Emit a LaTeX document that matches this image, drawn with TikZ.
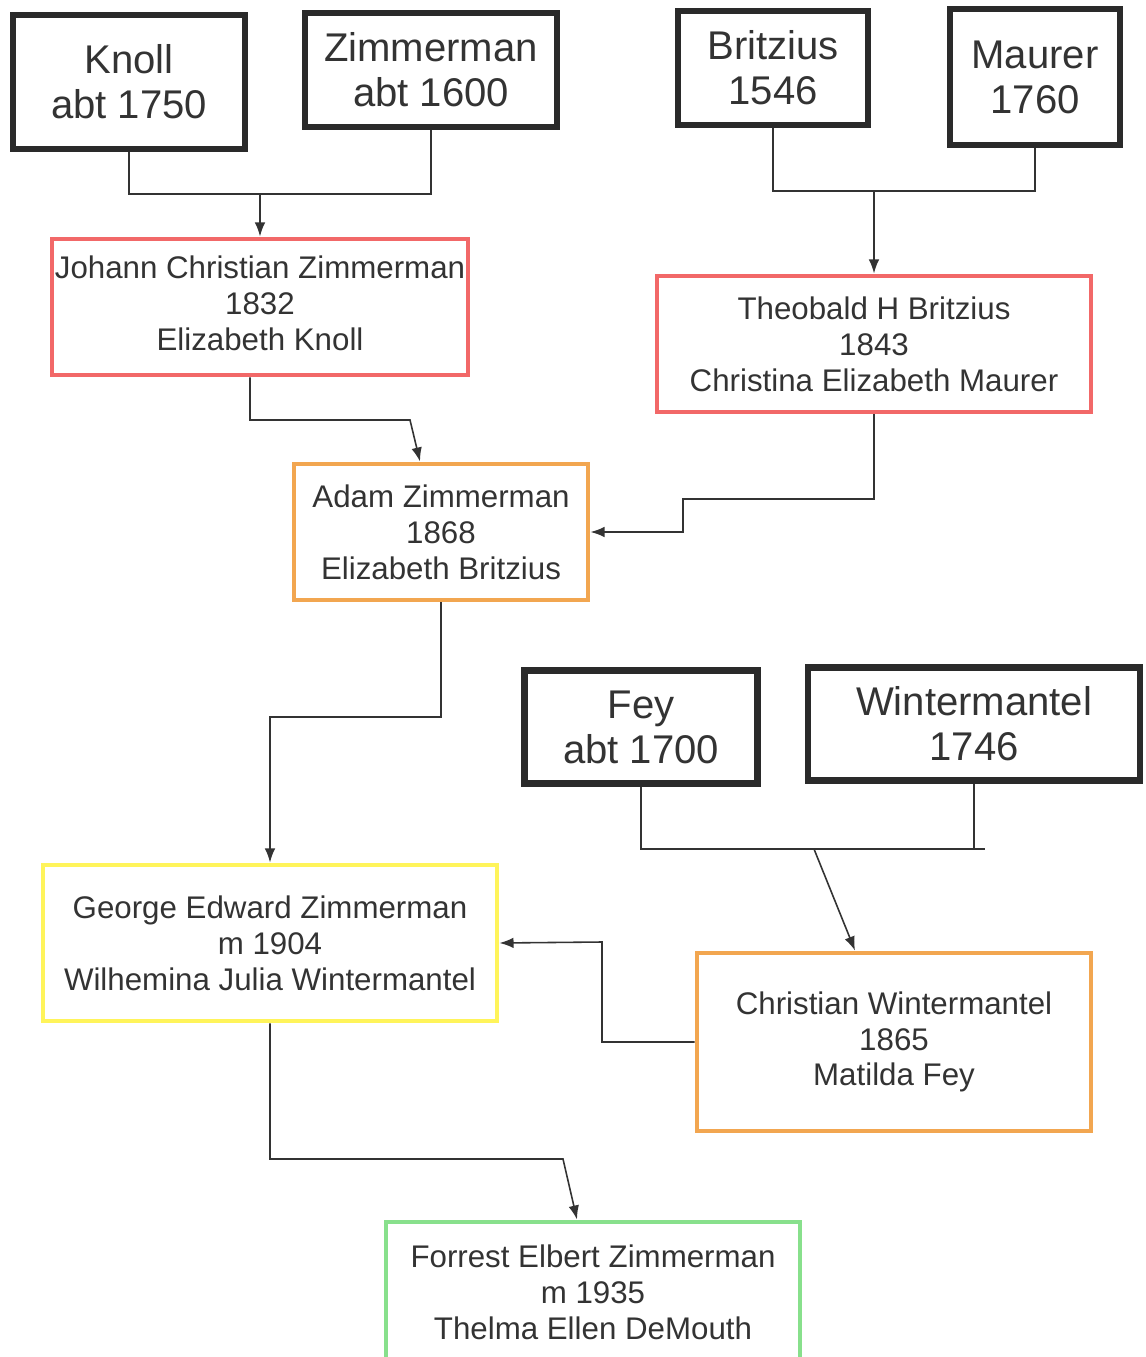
\documentclass[tikz,border=0pt]{standalone}
\usepackage{fontspec}
\setmainfont{Liberation Sans}
\usetikzlibrary{arrows.meta}
\definecolor{inkgrey}{HTML}{333333}
\definecolor{boxblack}{HTML}{2A2A2A}
\definecolor{boxred}{HTML}{F26868}
\definecolor{boxorange}{HTML}{F2A650}
\definecolor{boxyellow}{HTML}{FFF45A}
\definecolor{boxgreen}{HTML}{88E08C}
\tikzset{
  elder/.style={draw=boxblack, line width=1.8pt, inner sep=0pt, align=center,
    text=inkgrey, font=\fontsize{11.4}{12.8}\selectfont},
  couple/.style={draw=#1, line width=1.4pt, inner sep=0pt, align=center,
    text=inkgrey, font=\fontsize{8.9}{10.2}\selectfont},
  link/.style={draw=inkgrey, line width=0.45pt}
}
\begin{document}
\begin{tikzpicture}[>={Latex[length=4pt,width=3pt]}]
  \useasboundingbox (0,0) rectangle (11.45,-13.57);
  % oldest surnames
  \node[elder, minimum width=2.32cm, minimum height=1.34cm] (knoll) at (1.29,-0.82) {Knoll\\abt 1750};
  \node[elder, minimum width=2.52cm, minimum height=1.14cm] (zim) at (4.31,-0.70) {Zimmerman\\abt 1600};
  \node[elder, minimum width=1.90cm, minimum height=1.14cm] (brit) at (7.73,-0.68) {Britzius\\1546};
  \node[elder, minimum width=1.70cm, minimum height=1.36cm] (maur) at (10.35,-0.77) {Maurer\\1760};
  \node[elder, minimum width=2.33cm, minimum height=1.13cm] (fey) at (6.41,-7.27) {Fey\\abt 1700};
  \node[elder, minimum width=3.32cm, minimum height=1.13cm] (wint) at (9.74,-7.24) {Wintermantel\\1746};
  % couples
  \node[couple=boxred, minimum width=4.16cm, minimum height=1.36cm] (johann) at (2.60,-3.07) {\raisebox{0.14cm}{\begin{tabular}{@{}c@{}}Johann Christian Zimmerman\\1832\\Elizabeth Knoll\end{tabular}}};
  \node[couple=boxred, minimum width=4.34cm, minimum height=1.36cm] (theo) at (8.74,-3.44) {Theobald H Britzius\\1843\\Christina Elizabeth Maurer};
  \node[couple=boxorange, minimum width=2.94cm, minimum height=1.36cm] (adam) at (4.41,-5.32) {Adam Zimmerman\\1868\\Elizabeth Britzius};
  \node[couple=boxyellow, minimum width=4.54cm, minimum height=1.56cm] (george) at (2.70,-9.43) {George Edward Zimmerman\\m 1904\\Wilhemina Julia Wintermantel};
  \node[couple=boxorange, minimum width=3.94cm, minimum height=1.78cm] (chris) at (8.94,-10.42) {Christian Wintermantel\\1865\\Matilda Fey};
  \node[couple=boxgreen, minimum width=4.14cm, minimum height=1.40cm] (forrest) at (5.93,-12.92) {Forrest Elbert Zimmerman\\m 1935\\Thelma Ellen DeMouth};
  % junctions
  \coordinate (kz) at (2.60,-1.94);
  \coordinate (bm) at (8.74,-1.91);
  \coordinate (ja) at (4.10,-4.20);
  \coordinate (ta) at (6.83,-4.99);
  \coordinate (ag) at (2.70,-7.17);
  \coordinate (fw) at (9.85,-8.49);
  \coordinate (fwc) at (8.14,-8.49);
  \coordinate (cg) at (6.02,-9.42);
  \coordinate (gf) at (5.63,-11.59);
  % connectors
  \draw[link] (knoll.south) |- (kz) -| (zim.south);
  \draw[link,->] (kz) -- (johann.north);
  \draw[link] (brit.south) |- (bm) -| (maur.south);
  \draw[link,->] (bm) -- (theo.north);
  \draw[link,->] ([xshift=-0.10cm]johann.south) |- (ja) -- ([xshift=-0.21cm]adam.north);
  \draw[link,->] (theo.south) |- (ta) |- (adam.east);
  \draw[link,->] (adam.south) |- (ag) -- (george.north);
  \draw[link] (fey.south) |- (fw);
  \draw[link] (wint.south) -- (wint.south |- fw);
  \draw[link,->] (fwc) -- ([xshift=-0.39cm]chris.north);
  \draw[link,->] (chris.west) -| (cg) -- (george.east);
  \draw[link,->] (george.south) |- (gf) -- ([xshift=-0.16cm]forrest.north);
\end{tikzpicture}
\end{document}
